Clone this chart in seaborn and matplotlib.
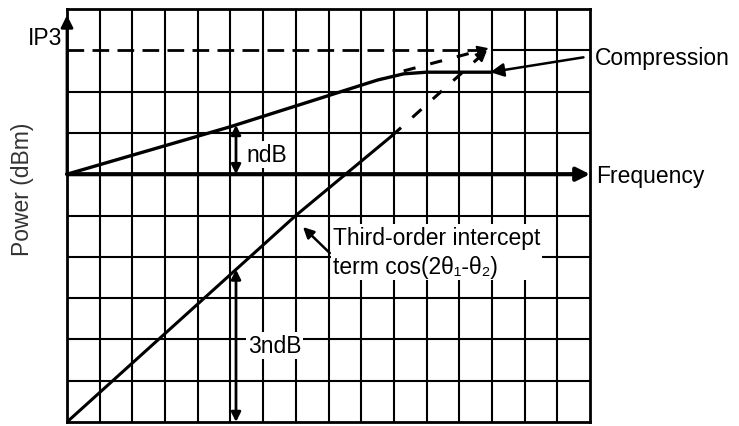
import matplotlib
matplotlib.use("Agg")
import matplotlib.pyplot as plt
import seaborn as sns
import pandas as pd
import numpy as np

# Grid extent (columns x rows of the chart paper)
n_cols = 16
n_rows = 10

# Reference levels
freq_level = 6.0
ip3_level = 9.0
ip3_x = 13.0

# Fundamental output: linear, then compressing
fund_x = [0.0, 5.0, 9.5, 10.3, 11.0, 13.0]
fund_y = [6.0, 7.15, 8.28, 8.43, 8.47, 8.47]
# Extrapolated fundamental (dashed) up to the intercept
fund_ext_x = [10.3, 12.9]
fund_ext_y = [8.50, 9.05]

# Third-order product: solid, then extrapolated (dashed)
third_x = [0.0, 7.0, 9.94]
third_y = [0.0, 5.0, 6.93]
third_ext_x = [9.94, 12.85]
third_ext_y = [6.93, 9.0]

# Position of the ndB / 3ndB markers
marker_x = 5.17

sns.set_theme(style="white")
plt.rcParams['font.family'] = ['Liberation Sans', 'DejaVu Sans']
plt.rcParams['text.color'] = 'black'

fig = plt.figure(figsize=(7.39, 4.27), dpi=100)
fig.patch.set_facecolor("white")
ax = fig.add_axes([67 / 739, 1 - 423 / 427, (590 - 67) / 739, (423 - 10) / 427])
ax.set_facecolor("white")
ax.set_xlim(0, n_cols)
ax.set_ylim(0, n_rows)
ax.set_xticks([])
ax.set_yticks([])
for sp in ax.spines.values():
    sp.set_color("black")
    sp.set_linewidth(2.0)

grid_kw = dict(color="black", lw=1.5, zorder=1)
for c in range(1, n_cols):
    ax.axvline(c, **grid_kw)
for r in range(1, n_rows):
    if r in (freq_level, ip3_level):
        continue
    ax.axhline(r, **grid_kw)
# IP3 level: solid to the right of the intercept, dashed to the left
ax.plot([ip3_x, n_cols], [ip3_level, ip3_level], **grid_kw)
ax.plot([0, ip3_x], [ip3_level, ip3_level], color="black", lw=2.0,
        dashes=(6, 3), zorder=2)

# Curves
fund_df = pd.DataFrame({"x": fund_x, "y": fund_y})
third_df = pd.DataFrame({"x": third_x, "y": third_y})
sns.lineplot(data=fund_df, x="x", y="y", sort=False, ax=ax,
             color="black", lw=2.4, zorder=5)
sns.lineplot(data=third_df, x="x", y="y", sort=False, ax=ax,
             color="black", lw=2.2, zorder=5)


def trimmed(xs, ys, cut):
    """Segment end pulled back along the line so the arrowhead sits on the tip."""
    dx = xs[1] - xs[0]
    dy = ys[1] - ys[0]
    return [xs[0], xs[1] - cut], [ys[0], ys[1] - cut * dy / dx]


ext_kw = dict(color="black", lw=2.2, dashes=(4, 5), zorder=5)
ax.plot(*trimmed(fund_ext_x, fund_ext_y, 0.25), **ext_kw)
ax.plot(*trimmed(third_ext_x, third_ext_y, 0.2), **ext_kw)

head_kw = dict(arrowstyle="-|>", color="black", lw=1.5, mutation_scale=16,
               shrinkA=0, shrinkB=0)
for xs, ys in ((fund_ext_x, fund_ext_y), (third_ext_x, third_ext_y)):
    dx = xs[1] - xs[0]
    dy = ys[1] - ys[0]
    t = 0.12
    ax.annotate("", xy=(xs[1], ys[1]), xytext=(xs[1] - t * dx, ys[1] - t * dy),
                arrowprops=head_kw, zorder=6)

# Frequency axis arrow and power axis arrow
ax.annotate("", xy=(n_cols, freq_level), xytext=(0, freq_level),
            arrowprops=dict(arrowstyle="-|>", color="black", lw=3,
                            mutation_scale=20, shrinkA=0, shrinkB=0),
            annotation_clip=False, zorder=6)
ax.annotate("", xy=(0, 9.85), xytext=(0, freq_level),
            arrowprops=dict(arrowstyle="-|>", color="black", lw=2,
                            mutation_scale=18, shrinkA=0, shrinkB=0),
            annotation_clip=False, zorder=6)

# Compression pointer
ax.annotate("", xy=(12.95, fund_y[-1]), xytext=(15.8, 8.83),
            arrowprops=dict(arrowstyle="-|>", color="black", lw=1.8,
                            mutation_scale=20, shrinkA=0, shrinkB=0),
            annotation_clip=False, zorder=6)

# ndB and 3ndB dimension arrows
fund_at_marker = np.interp(marker_x, fund_x, fund_y)
third_at_marker = np.interp(marker_x, third_x, third_y)
dim_kw = dict(arrowstyle="<|-|>", color="black", lw=2.0, mutation_scale=14,
              shrinkA=0, shrinkB=0)
ax.annotate("", xy=(marker_x, fund_at_marker), xytext=(marker_x, freq_level),
            arrowprops=dim_kw, zorder=6)
ax.annotate("", xy=(marker_x, third_at_marker), xytext=(marker_x, 0),
            arrowprops=dim_kw, zorder=6)

# Third-order pointer
ax.annotate("", xy=(7.22, 4.72), xytext=(8.04, 4.09),
            arrowprops=dict(arrowstyle="-|>", color="black", lw=1.8,
                            mutation_scale=16, shrinkA=0, shrinkB=0),
            zorder=6)

fs = 16.5
box = dict(boxstyle="square,pad=0.08", fc="white", ec="none")
ax.text(5.5, 6.47, "ndB", fontsize=fs, va="center", ha="left", bbox=box, zorder=3)
ax.text(5.53, 1.85, "3ndB", fontsize=fs, va="center", ha="left", bbox=box, zorder=3)
ax.text(8.13, 4.12, "Third-order intercept\nterm cos(2θ\u2081-θ\u2082)", fontsize=fs,
        va="center", ha="left", linespacing=1.35, bbox=box, zorder=3)
ax.text(16.15, 8.83, "Compression", fontsize=fs, va="center", ha="left",
        clip_on=False)
ax.text(16.2, 5.96, "Frequency", fontsize=fs, va="center", ha="left",
        clip_on=False)
ax.text(-0.15, 9.32, "IP3", fontsize=fs, va="center", ha="right",
        clip_on=False)
ax.text(-1.35, 5.67, "Power (dBm)", fontsize=fs, va="center", ha="center",
        rotation=90, clip_on=False, color="#333333")

fig.savefig("out.png", dpi=100, facecolor="white")
